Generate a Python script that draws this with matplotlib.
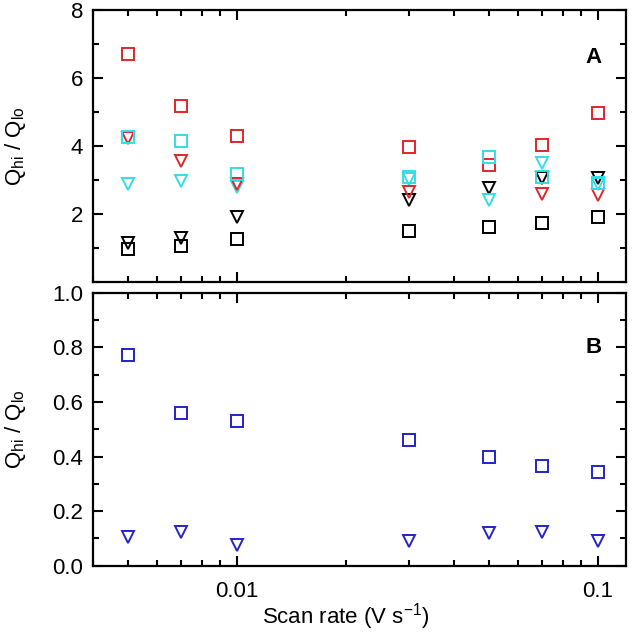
import numpy as np
import matplotlib.pyplot as plt
from matplotlib.ticker import MultipleLocator, LogLocator, NullFormatter, FixedLocator, FixedFormatter

plt.rcParams['font.family'] = ['Liberation Sans', 'DejaVu Sans']

# scan rates (V/s)
scan_rate = [0.005, 0.007, 0.01, 0.03, 0.05, 0.07, 0.1]

# panel A
red_sq = [6.7, 5.18, 4.29, 3.98, 3.45, 4.03, 4.97]
red_tri = [4.24, 3.57, 2.88, 2.65, np.nan, 2.59, 2.57]
cyan_sq = [4.27, 4.15, 3.18, 3.1, 3.68, 3.08, 2.9]
cyan_tri = [2.88, 2.98, 2.78, 3.03, 2.41, 3.5, 2.88]
black_tri = [1.14, 1.29, 1.9, 2.41, 2.76, 3.06, 3.06]
black_sq = [0.96, 1.06, 1.26, 1.5, 1.61, 1.74, 1.91]

# panel B
blue_sq = [0.773, 0.561, 0.529, 0.462, 0.40, 0.366, 0.345]
blue_tri = [0.107, 0.122, 0.077, 0.089, 0.12, 0.122, 0.089]

red = '#e0262b'
cyan = '#33dde6'
blue = '#2424c8'

fig = plt.figure(figsize=(6.33, 6.35), dpi=100)
axA = fig.add_axes([0.147, 0.556, 0.842, 0.428])
axB = fig.add_axes([0.147, 0.109, 0.842, 0.430])

mk = dict(linestyle='none', markerfacecolor='none', markeredgewidth=1.4)
sq = 9
tri = 9
axA.plot(scan_rate, black_sq, marker='s', markersize=sq, markeredgecolor='k', **mk)
axA.plot(scan_rate, black_tri, marker='v', markersize=tri, markeredgecolor='k', **mk)
axA.plot(scan_rate, red_sq, marker='s', markersize=sq, markeredgecolor=red, **mk)
axA.plot(scan_rate, cyan_tri, marker='v', markersize=tri, markeredgecolor=cyan, **mk)
axA.plot(scan_rate, red_tri, marker='v', markersize=tri, markeredgecolor=red, **mk)
axA.plot(scan_rate, cyan_sq, marker='s', markersize=sq, markeredgecolor=cyan, **mk)

axB.plot(scan_rate, blue_sq, marker='s', markersize=sq, markeredgecolor=blue, **mk)
axB.plot(scan_rate, blue_tri, marker='v', markersize=tri, markeredgecolor=blue, **mk)

for ax in (axA, axB):
    ax.set_xscale('log')
    ax.set_xlim(0.004, 0.1196)
    ax.xaxis.set_major_locator(FixedLocator([0.01, 0.1]))
    ax.xaxis.set_major_formatter(FixedFormatter(['0.01', '0.1']))
    ax.xaxis.set_minor_locator(LogLocator(base=10, subs=np.arange(2, 10)))
    ax.xaxis.set_minor_formatter(NullFormatter())
    ax.tick_params(which='both', direction='in', top=True, right=True, width=1.5, labelsize=16)
    ax.tick_params(which='major', length=7)
    ax.tick_params(which='minor', length=4)
    ax.tick_params(axis='y', which='major', pad=7)
    ax.tick_params(axis='x', which='major', pad=11)
    for s in ax.spines.values():
        s.set_linewidth(1.6)
    ax.set_ylabel('Q$_{\\mathregular{hi}}$ / Q$_{\\mathregular{lo}}$', fontsize=16)
    ax.yaxis.set_label_coords(-0.122, 0.5)

axA.set_ylim(0, 8)
axA.yaxis.set_major_locator(MultipleLocator(2))
axA.yaxis.set_minor_locator(MultipleLocator(1))
axA.set_yticks([2, 4, 6, 8])
axA.tick_params(axis='x', labelbottom=False)
axA.text(0.955, 0.827, 'A', transform=axA.transAxes, fontsize=16, fontweight='bold', ha='right', va='center')

axB.set_ylim(0, 1.0)
axB.yaxis.set_major_locator(MultipleLocator(0.2))
axB.yaxis.set_minor_locator(MultipleLocator(0.1))
axB.yaxis.set_major_formatter(plt.FormatStrFormatter('%.1f'))
axB.text(0.955, 0.80, 'B', transform=axB.transAxes, fontsize=16, fontweight='bold', ha='right', va='center')
axB.set_xlabel('Scan rate (V s$^{\\mathregular{-1}}$)', fontsize=16)
axB.xaxis.set_label_coords(0.475, -0.13)

fig.savefig('out.png', dpi=100)
